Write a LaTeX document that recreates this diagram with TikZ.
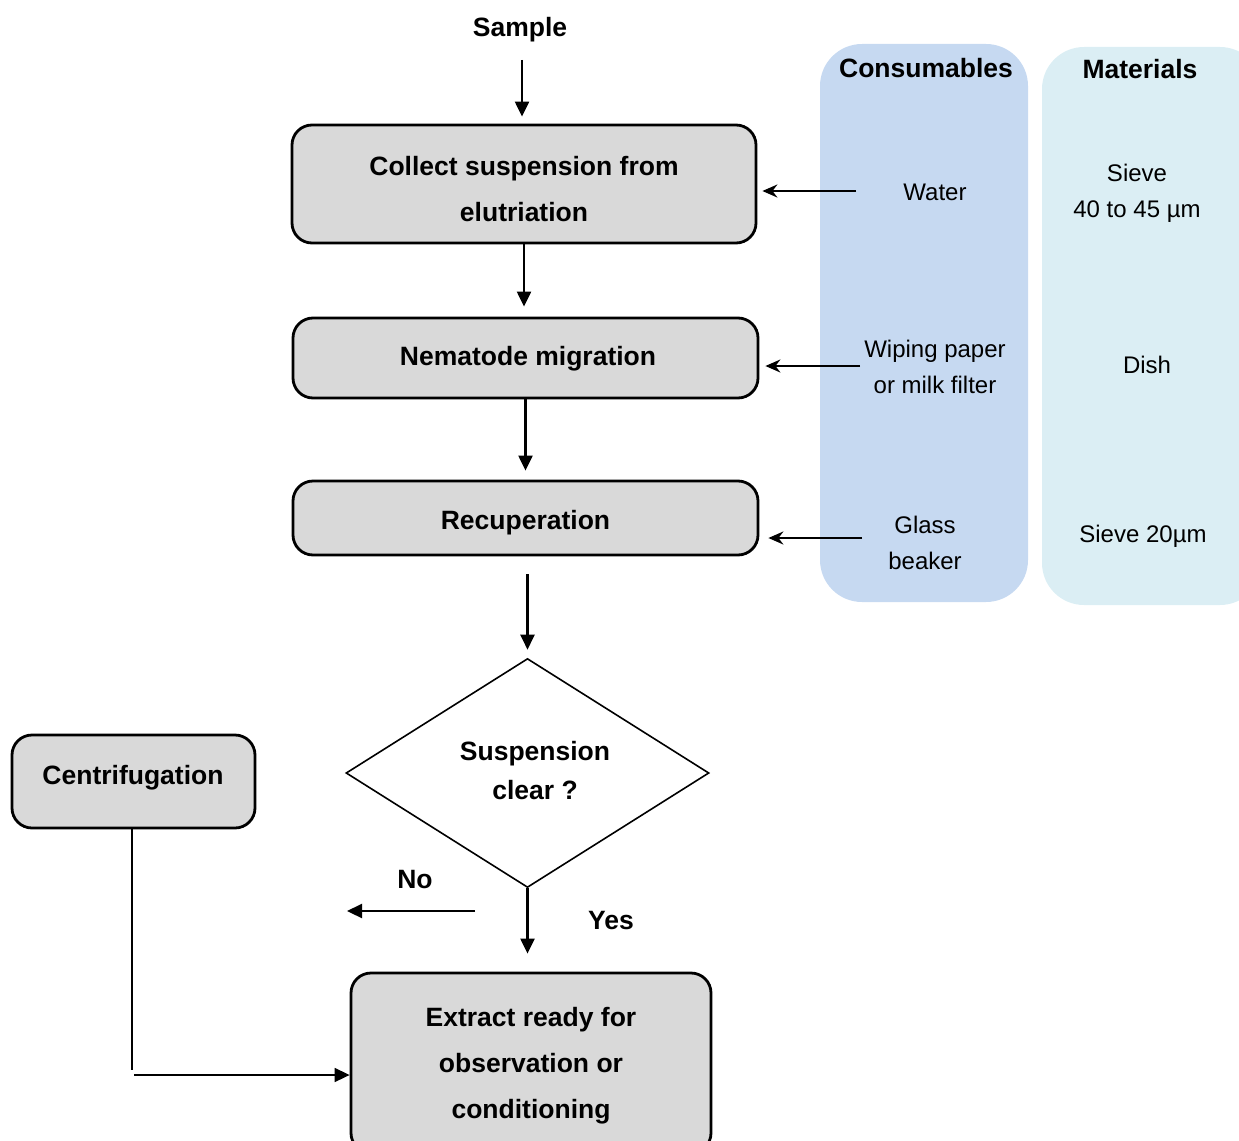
\documentclass[tikz,border=0pt]{standalone}
\usepackage{fontspec}
\setmainfont{Liberation Sans}
\usetikzlibrary{shapes.geometric,arrows.meta}
\definecolor{boxgray}{HTML}{D9D9D9}
\definecolor{consblue}{HTML}{C6D9F1}
\definecolor{matblue}{HTML}{DBEEF4}
\begin{document}
\begin{tikzpicture}[x=1pt,y=-1pt,
  stepbox/.style={rectangle, rounded corners=20pt, draw, line width=2.8pt,
    fill=boxgray, inner sep=0pt},
  steptext/.style={align=center, font=\bfseries\fontsize{26.5}{46}\selectfont},
  column/.style={rectangle, rounded corners=42pt, draw=none, inner sep=0pt},
  head/.style={font=\bfseries\fontsize{26.5}{32}\selectfont, align=center},
  item/.style={font=\fontsize{24}{36}\selectfont, align=center},
  flow/.style={line width=2.2pt, -{Triangle[length=15pt,width=14pt]}},
  feed/.style={line width=2.2pt, -{Stealth[length=15pt,width=13pt,inset=5pt]}},
  thin/.style={line width=1.6pt}]
\useasboundingbox (0,0) rectangle (1239,1140);
\clip (0,0) rectangle (1239,1140);

% side columns
\node[column, fill=consblue, minimum width=208pt, minimum height=558pt] (cons) at (924,323) {};
\node[column, fill=matblue, minimum width=220pt, minimum height=558pt] (mat) at (1152,326) {};
\node[head] (consh) at (926,68) {Consumables};
\node[head] (math) at (1140,69) {Materials};

\node[item] (water) at (935,192) {Water};
\node[item] (wipe) at (935,367) {Wiping paper\\or milk filter};
\node[item] (glass) at (925,543) {Glass\\beaker};
\node[item] (sieve1) at (1137,193) {Sieve\\40 to 45 µm};
\node[item] (dish) at (1147,365) {Dish};
\node[item] (sieve2) at (1143,536) {Sieve 20µm};

% main flow
\node[head] (sample) at (520,30) {Sample};
\node[stepbox, minimum width=464pt, minimum height=118pt] (collect) at (524,184) {};
\node[steptext] (collecttext) at (524,189) {Collect suspension from\\elutriation};
\node[stepbox, minimum width=465pt, minimum height=80pt] (migr) at (525.5,358) {};
\node[steptext] (migrtext) at (528,359) {Nematode migration};
\node[stepbox, minimum width=465pt, minimum height=74pt] (recup) at (525.5,518) {};
\node[steptext] (recuptext) at (525.5,523) {Recuperation};
\node[diamond, draw, line width=1.6pt, fill=white, inner sep=0pt, aspect=1.585,
      minimum width=363pt, minimum height=229pt] (clear) at (527.5,773) {};
\node[steptext, font=\bfseries\fontsize{26.5}{39}\selectfont] (cleartext) at (535,771) {Suspension\\clear ?};
\node[stepbox, minimum width=243pt, minimum height=93pt] (centri) at (133.5,781.5) {};
\node[steptext] (centritext) at (133,778) {Centrifugation};
\node[stepbox, minimum width=360pt, minimum height=180pt] (extract) at (531,1063) {};
\node[steptext] (extracttext) at (531,1066) {Extract ready for\\observation or\\conditioning};

\node[head] (yes) at (611,921) {Yes};
\node[head] (no) at (415,880) {No};

% connectors of the flow
\coordinate (sampleend) at (522,60);
\draw[flow, shorten >=7pt] (sampleend) -- (sampleend |- collect.north);
\draw[flow, shorten >=10pt] (collect.south) -- (collect.south |- migr.north);
\draw[flow, shorten >=9pt] (migr.south) -- (migr.south |- recup.north);
\draw[flow, shorten <=18pt, shorten >=8pt] (recup.south -| clear.north) -- (clear.north);
\draw[flow, shorten >=18pt] (clear.south) -- (clear.south |- extract.north);
\coordinate (nostart) at (475,911);
\coordinate (noend) at (347,911);
\draw[flow] (nostart) -- (noend);
\coordinate (centricorner) at (132,1070);
\coordinate (centrireturn) at (134,1075);
\draw[thin] (centri.south -| centricorner) -- (centricorner);
\draw[thin, -{Triangle[length=15pt,width=14pt]}] (centrireturn) -- (centrireturn -| extract.west);

% supplies fed into the steps
\coordinate (wfeed) at (856,191);
\coordinate (pfeed) at (860,366);
\coordinate (gfeed) at (862,538);
\draw[feed, shorten >=5pt] (wfeed) -- (wfeed -| collect.east);
\draw[feed, shorten >=6pt] (pfeed) -- (pfeed -| migr.east);
\draw[feed, shorten >=9pt] (gfeed) -- (gfeed -| recup.east);
\end{tikzpicture}
\end{document}
